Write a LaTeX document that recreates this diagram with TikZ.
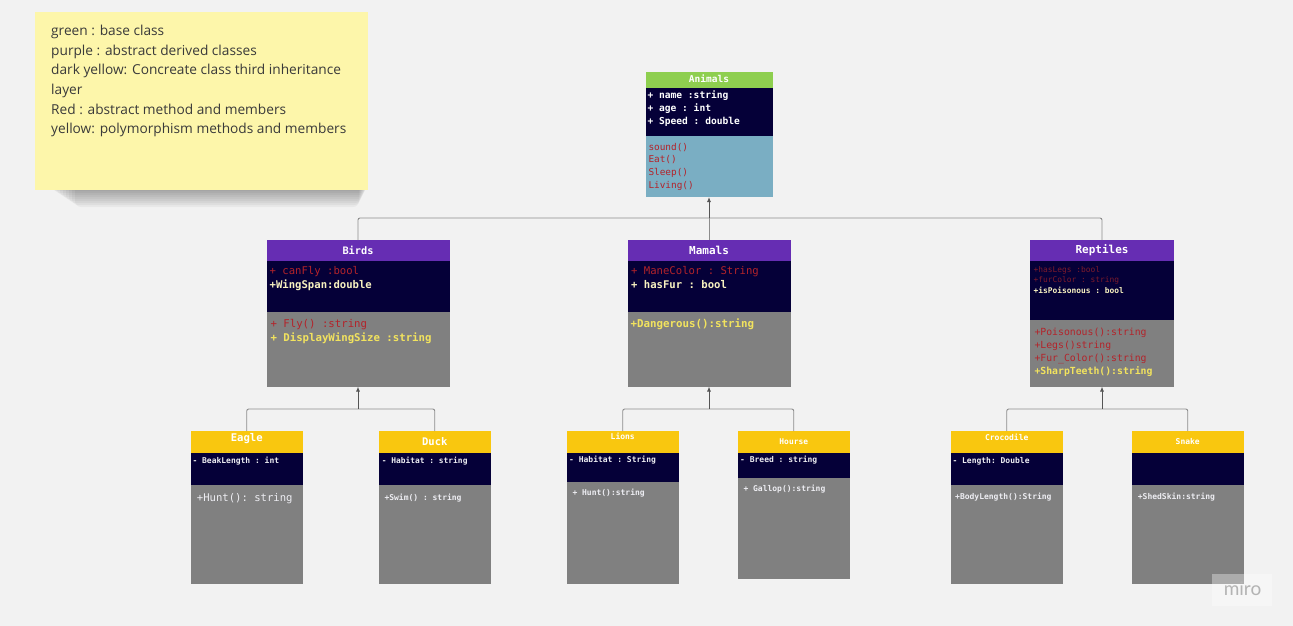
\documentclass[tikz,border=0pt]{standalone}
\usepackage{fontspec}
\setmonofont{DejaVu Sans Mono}
\newfontfamily\notefont{Open Sans}
\newfontfamily\logofont{Lato}
\usepackage{tikz}
\usetikzlibrary{positioning, arrows.meta}

\definecolor{bgc}{HTML}{F2F2F2}
\definecolor{notec}{HTML}{FDF6AA}
\definecolor{notetext}{HTML}{3A3A3A}
\definecolor{greenh}{HTML}{8ECF4F}
\definecolor{navyc}{HTML}{050038}
\definecolor{bluem}{HTML}{7AAEC3}
\definecolor{purp}{HTML}{662DB3}
\definecolor{grayc}{HTML}{808080}
\definecolor{darky}{HTML}{F9C70F}
\definecolor{memred}{HTML}{B3232A}
\definecolor{memdim}{HTML}{7D1B2C}
\definecolor{memlt}{HTML}{F8F2C0}
\definecolor{memyel}{HTML}{F2E35E}
\definecolor{memwt}{HTML}{EDEDF2}
\definecolor{linec}{HTML}{8C8C8C}
\definecolor{arrc}{HTML}{555555}
\definecolor{logoc}{HTML}{B3B3B3}

\begin{document}
\begin{tikzpicture}[x=1pt, y=-1pt,
  comp/.style={anchor=north west, inner sep=0pt, outer sep=0pt},
  ctitle/.style={text=white, inner sep=0pt, font=\ttfamily\bfseries\fontsize{#1}{#1}\selectfont},
  mem/.style 2 args={inner sep=0pt, align=left, font=\ttfamily\fontsize{#1}{#2}\selectfont, execute at begin node=\strut},
  memb/.style 2 args={mem={#1}{#2}, font=\ttfamily\bfseries\fontsize{#1}{#2}\selectfont},
  link/.style={draw=linec, line width=0.9pt, rounded corners=2pt},
  arr/.style={draw=arrc, line width=0.9pt, -{Latex[length=5pt,width=4pt]}}]
\useasboundingbox (0,0) rectangle (1293,626);
\fill[bgc] (0,0) rectangle (1293,626);

% sticky note
\foreach \k in {1,...,9}
  \fill[black, opacity=0.04, rounded corners=6pt] (48+3*\k,184) rectangle (368-\k,189+2*\k);
\fill[notec] (35,12) rectangle (368,189.5);
\node[anchor=north west, inner sep=0pt, align=left, text=notetext,
  font=\notefont\fontsize{13.7}{19.6}\selectfont, execute at begin node=\strut] (legend) at (51,25)
  {green : base class\\purple : abstract derived classes\\dark yellow: Concreate class third inheritance\\layer\\Red : abstract method and members\\yellow: polymorphism methods and members};

% Animals
\node[comp, fill=greenh, minimum width=127pt, minimum height=16pt] (animals-h) at (645.5,72) {};
\node[comp, fill=navyc, minimum width=127pt, minimum height=48pt, below=0pt of animals-h] (animals-a) {};
\node[comp, fill=bluem, minimum width=127pt, minimum height=61pt, below=0pt of animals-a] (animals-m) {};
\node[ctitle=9.5] (animals-t) at ([yshift=1.3pt]animals-h.center) {Animals};
\node[memb={9.6}{12.7}, text=white, below right=2.8pt and 1.8pt of animals-a.north west] (animals-at)
  {+ name :string\\+ age : int\\+ Speed : double};
\node[mem={9.4}{12.6}, text=memred, below right=7pt and 2.8pt of animals-m.north west] (animals-mt)
  {sound()\\Eat()\\Sleep()\\Living()};

% Birds
\node[comp, fill=purp, minimum width=183pt, minimum height=21pt] (birds-h) at (266.5,240) {};
\node[comp, fill=navyc, minimum width=183pt, minimum height=51pt, below=0pt of birds-h] (birds-a) {};
\node[comp, fill=grayc, minimum width=183pt, minimum height=74.5pt, below=0pt of birds-a] (birds-m) {};
\node[ctitle=10.3] (birds-t) at (birds-h.center) {Birds};
\node[mem={10.6}{14.3}, below right=5.3pt and 3pt of birds-a.north west] (birds-at)
  {\textcolor{memred}{+ canFly :bool}\\\textcolor{memlt}{\bfseries +WingSpan:double}};
\node[mem={10.7}{13.4}, below right=7.4pt and 3.8pt of birds-m.north west] (birds-mt)
  {\textcolor{memred}{+ Fly() :string}\\\textcolor{memyel}{\bfseries + DisplayWingSize :string}};

% Mamals
\node[comp, fill=purp, minimum width=163pt, minimum height=21pt] (mamals-h) at (627.5,240) {};
\node[comp, fill=navyc, minimum width=163pt, minimum height=51pt, below=0pt of mamals-h] (mamals-a) {};
\node[comp, fill=grayc, minimum width=163pt, minimum height=74.5pt, below=0pt of mamals-a] (mamals-m) {};
\node[ctitle=11] (mamals-t) at (mamals-h.center) {Mamals};
\node[mem={10.6}{14.3}, below right=5.3pt and 3.5pt of mamals-a.north west] (mamals-at)
  {\textcolor{memred}{+ ManeColor : String}\\\textcolor{memlt}{\bfseries + hasFur : bool}};
\node[memb={10.8}{13.4}, text=memyel, below right=6.2pt and 2.8pt of mamals-m.north west] (mamals-mt)
  {+Dangerous():string};

% Reptiles
\node[comp, fill=purp, minimum width=144pt, minimum height=21pt] (reptiles-h) at (1030,240) {};
\node[comp, fill=navyc, minimum width=144pt, minimum height=59pt, below=0pt of reptiles-h] (reptiles-a) {};
\node[comp, fill=grayc, minimum width=144pt, minimum height=66.5pt, below=0pt of reptiles-a] (reptiles-m) {};
\node[ctitle=11] (reptiles-t) at (reptiles-h.center) {Reptiles};
\node[mem={7.9}{10.4}, below right=5.1pt and 3.3pt of reptiles-a.north west] (reptiles-at)
  {\textcolor{memdim}{+hasLegs :bool}\\\textcolor{memdim}{+furColor : string}\\\textcolor{memlt}{\bfseries +isPoisonous : bool}};
\node[mem={9.8}{13}, below right=7.6pt and 4.3pt of reptiles-m.north west] (reptiles-mt)
  {\textcolor{memred}{+Poisonous():string}\\\textcolor{memred}{+Legs()string}\\\textcolor{memred}{+Fur\_Color():string}\\\textcolor{memyel}{\bfseries +SharpTeeth():string}};

% Eagle
\node[comp, fill=darky, minimum width=111.5pt, minimum height=21.5pt] (eagle-h) at (191,431) {};
\node[comp, fill=navyc, minimum width=111.5pt, minimum height=32.5pt, below=0pt of eagle-h] (eagle-a) {};
\node[comp, fill=grayc, minimum width=111.5pt, minimum height=98.5pt, below=0pt of eagle-a] (eagle-m) {};
\node[ctitle=10.6] (eagle-t) at ([yshift=3.5pt]eagle-h.center) {Eagle};
\node[memb={8}{10}, text=memwt, below right=4.1pt and 1.3pt of eagle-a.north west] (eagle-at)
  {- BeakLength : int};
\node[mem={10.6}{13}, text=memwt, below right=7.6pt and 5.7pt of eagle-m.north west] (eagle-mt)
  {+Hunt(): string};

% Duck
\node[comp, fill=darky, minimum width=111.5pt, minimum height=21.5pt] (duck-h) at (379,431) {};
\node[comp, fill=navyc, minimum width=111.5pt, minimum height=32.5pt, below=0pt of duck-h] (duck-a) {};
\node[comp, fill=grayc, minimum width=111.5pt, minimum height=98.5pt, below=0pt of duck-a] (duck-m) {};
\node[ctitle=10.5] (duck-t) at (duck-h.center) {Duck};
\node[memb={7.9}{10}, text=memwt, below right=4.1pt and 2.7pt of duck-a.north west] (duck-at)
  {- Habitat : string};
\node[memb={8}{10}, text=memwt, below right=8pt and 5.3pt of duck-m.north west] (duck-mt)
  {+Swim() : string};

% Lions
\node[comp, fill=darky, minimum width=111.5pt, minimum height=21.5pt] (lions-h) at (567,431) {};
\node[comp, fill=navyc, minimum width=111.5pt, minimum height=29.5pt, below=0pt of lions-h] (lions-a) {};
\node[comp, fill=grayc, minimum width=111.5pt, minimum height=102pt, below=0pt of lions-a] (lions-m) {};
\node[ctitle=8] (lions-t) at ([yshift=5pt]lions-h.center) {Lions};
\node[memb={8}{10}, text=memwt, below right=3.1pt and 2pt of lions-a.north west] (lions-at)
  {- Habitat : String};
\node[memb={8}{10}, text=memwt, below right=6.3pt and 5.3pt of lions-m.north west] (lions-mt)
  {+ Hunt():string};

% Hourse
\node[comp, fill=darky, minimum width=111.5pt, minimum height=21.5pt] (hourse-h) at (738,431) {};
\node[comp, fill=navyc, minimum width=111.5pt, minimum height=25pt, below=0pt of hourse-h] (hourse-a) {};
\node[comp, fill=grayc, minimum width=111.5pt, minimum height=101.5pt, below=0pt of hourse-a] (hourse-m) {};
\node[ctitle=7.9] (hourse-t) at (hourse-h.center) {Hourse};
\node[memb={8}{10}, text=memwt, below right=3.1pt and 2pt of hourse-a.north west] (hourse-at)
  {- Breed : string};
\node[memb={8}{10}, text=memwt, below right=6.8pt and 5.3pt of hourse-m.north west] (hourse-mt)
  {+ Gallop():string};

% Crocodile
\node[comp, fill=darky, minimum width=111.5pt, minimum height=21.5pt] (croc-h) at (951,431) {};
\node[comp, fill=navyc, minimum width=111.5pt, minimum height=32.5pt, below=0pt of croc-h] (croc-a) {};
\node[comp, fill=grayc, minimum width=111.5pt, minimum height=98.5pt, below=0pt of croc-a] (croc-m) {};
\node[ctitle=8] (croc-t) at ([yshift=4.5pt]croc-h.center) {Crocodile};
\node[memb={8}{10}, text=memwt, below right=4.1pt and 1.3pt of croc-a.north west] (croc-at)
  {- Length: Double};
\node[memb={8}{10}, text=memwt, below right=7.6pt and 4pt of croc-m.north west] (croc-mt)
  {+BodyLength():String};

% Snake
\node[comp, fill=darky, minimum width=111.5pt, minimum height=21.5pt] (snake-h) at (1132,431) {};
\node[comp, fill=navyc, minimum width=111.5pt, minimum height=32.5pt, below=0pt of snake-h] (snake-a) {};
\node[comp, fill=grayc, minimum width=111.5pt, minimum height=98.5pt, below=0pt of snake-a] (snake-m) {};
\node[ctitle=8] (snake-t) at (snake-h.center) {Snake};
\node[memb={8}{10}, text=memwt, below right=7.6pt and 5.7pt of snake-m.north west] (snake-mt)
  {+ShedSkin:string};

% inheritance lines
\coordinate (animals-j) at (709,218);
\coordinate (birds-j) at (358,409);
\coordinate (mamals-j) at (709,409);
\coordinate (reptiles-j) at (1102,409);
\draw[link] (birds-h.north) |- (animals-j) -| (reptiles-h.north);
\draw[link] (mamals-h.north) -- (animals-j);
\draw[arr] (animals-j) -- (animals-m.south);
\draw[link] (eagle-h.north) |- (birds-j) -| (duck-h.north);
\draw[arr] (birds-j) -- (birds-m.south);
\draw[link] (lions-h.north) |- (mamals-j) -| (hourse-h.north);
\draw[arr] (mamals-j) -- (mamals-m.south);
\draw[link] (croc-h.north) |- (reptiles-j) -| (snake-h.north);
\draw[arr] (reptiles-j) -- (reptiles-m.south);

% miro mark
\fill[white, opacity=0.35] (1212,574) rectangle (1272,606);
\node[text=logoc, inner sep=0pt, font=\logofont\fontsize{19}{19}\selectfont] (miro) at (1242.5,589) {miro};
\end{tikzpicture}
\end{document}
